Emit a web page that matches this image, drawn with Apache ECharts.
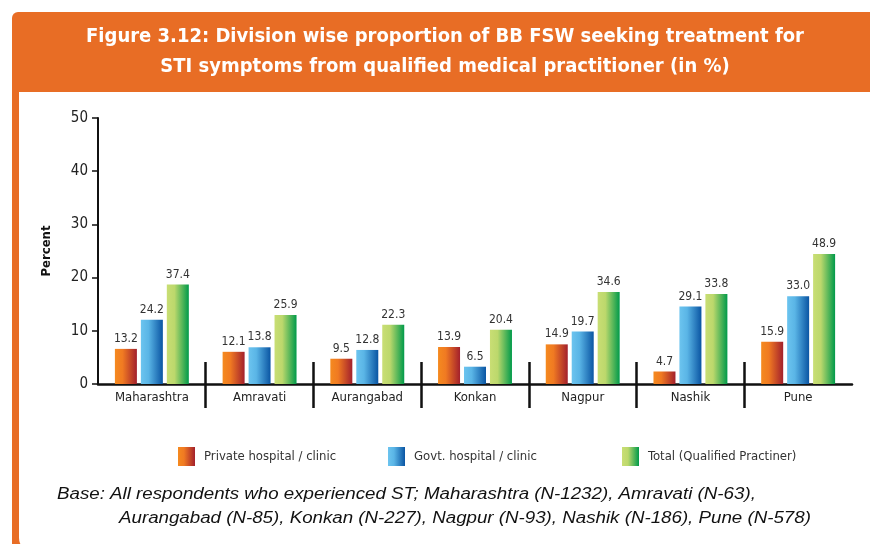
<!DOCTYPE html>
<html><head><meta charset="utf-8">
<script src="https://cdn.jsdelivr.net/npm/echarts@6/dist/echarts.min.js"></script>
<style>html,body{margin:0;padding:0;background:#fff}#c{width:870px;height:544px}</style>
</head><body><div id="c"></div>
<script>
var categories = ['Maharashtra','Amravati','Aurangabad','Konkan','Nagpur','Nashik','Pune'];
var privateVals = [13.2, 12.1, 9.5, 13.9, 14.9, 4.7, 15.9];
var govtVals = [24.2, 13.8, 12.8, 6.5, 19.7, 29.1, 33.0];
var totalVals = [37.4, 25.9, 22.3, 20.4, 34.6, 33.8, 48.9];
var seriesNames = ['Private hospital / clinic','Govt. hospital / clinic','Total (Qualified Practiner)'];
var tickLabels = [0, 10, 20, 30, 40, 50];

var FONT = '"DejaVu Sans Condensed", "Liberation Sans Narrow", "Roboto Condensed", sans-serif';
var chart = echarts.init(document.getElementById('c'));
function grad2(a, m, b) {
  return new echarts.graphic.LinearGradient(0, 0, 1, 0, [{offset:0,color:a},{offset:0.35,color:m},{offset:1,color:b}]);
}
var colors = [grad2('#f58a1f','#f07a22','#a3202c'), grad2('#6cc4ef','#5ab5e6','#0a55a3'), grad2('#c9de74','#bcd86c','#009a4a')];
var vals = [privateVals, govtVals, totalVals];
var ORANGE = '#E86D25';

var series = vals.map(function (v, i) {
  return {
    name: seriesNames[i], type: 'bar', data: v, barWidth: 22, barGap: '18%',
    itemStyle: { color: colors[i] },
    label: { show: true, position: 'top', distance: 4, formatter: function (p) { return p.value.toFixed(1); },
      fontFamily: FONT, fontSize: 12, color: '#333' }
  };
});

function legend(i, left) {
  return { data: [seriesNames[i]], left: left - 5, top: 442, itemWidth: 17, itemHeight: 19, icon: 'rect',
    textStyle: { fontFamily: FONT, fontSize: 13, color: '#333', padding: [0, 0, 0, 4] }, itemGap: 10, selectedMode: false };
}
// separator positions between categories (boundaries), in category-index units
var separators = [];
for (var k = 1; k < categories.length; k++) separators.push(k - 0.5);

function sepAxis(inside, len) {
  return { type: 'value', min: -0.5, max: categories.length - 0.5, position: 'bottom',
    axisLine: { show: false, onZero: false }, splitLine: { show: false },
    axisTick: { show: true, inside: inside, length: len, customValues: separators, lineStyle: { color: '#111', width: 2.5 } },
    axisLabel: { show: false } };
}

chart.setOption({
  animation: false,
  graphic: [
    { type: 'rect', shape: { x: 12, y: 12, width: 880, height: 560, r: [6, 0, 0, 18] }, style: { fill: ORANGE } },
    { type: 'rect', shape: { x: 19, y: 92, width: 880, height: 460, r: [0, 0, 0, 14] }, style: { fill: '#fff' } },
    { type: 'text', x: 445, y: 22, style: { text: 'Figure 3.12: Division wise proportion of BB FSW seeking treatment for\nSTI symptoms from qualified medical practitioner (in %)',
      fill: '#fff', font: 'bold 20px ' + FONT, textAlign: 'center', align: 'center', lineHeight: 30 } },
    { type: 'text', x: 57, y: 487, scaleX: 1.17, style: { text: 'Base: All respondents who experienced ST; Maharashtra (N-1232), Amravati (N-63),', fill: '#111', font: 'italic 16px "Liberation Sans", Arial, sans-serif' } },
    { type: 'text', x: 119, y: 511, scaleX: 1.17, style: { text: 'Aurangabad (N-85), Konkan (N-227), Nagpur (N-93), Nashik (N-186), Pune (N-578)', fill: '#111', font: 'italic 16px "Liberation Sans", Arial, sans-serif' } }
  ],
  legend: [legend(0, 178), legend(1, 388), legend(2, 622)],
  grid: { left: 98, right: 18, top: 118, bottom: 160, containLabel: false },
  xAxis: [
    { type: 'category', data: categories, position: 'bottom',
      axisLine: { onZero: false, lineStyle: { color: '#111', width: 2.5 } },
      axisTick: { show: false },
      axisLabel: { fontFamily: FONT, fontSize: 13, color: '#222', margin: 7 } },
    sepAxis(false, 24),
    sepAxis(true, 22)
  ],
  yAxis: {
    type: 'value', min: 0, max: 100, interval: 20,
    axisLine: { show: true, onZero: false, lineStyle: { color: '#111', width: 2 } },
    axisTick: { show: true, length: 6, lineStyle: { color: '#111', width: 1.5 } },
    splitLine: { show: false },
    axisLabel: { fontFamily: FONT, fontSize: 15, color: '#222', margin: 10,
      formatter: function (v) { return String(tickLabels[v / 20]); } },
    name: 'Percent', nameLocation: 'middle', nameGap: 45, nameRotate: 90,
    nameTextStyle: { fontFamily: FONT, fontWeight: 'bold', fontSize: 13, color: '#111' }
  },
  series: series
});
</script></body></html>
